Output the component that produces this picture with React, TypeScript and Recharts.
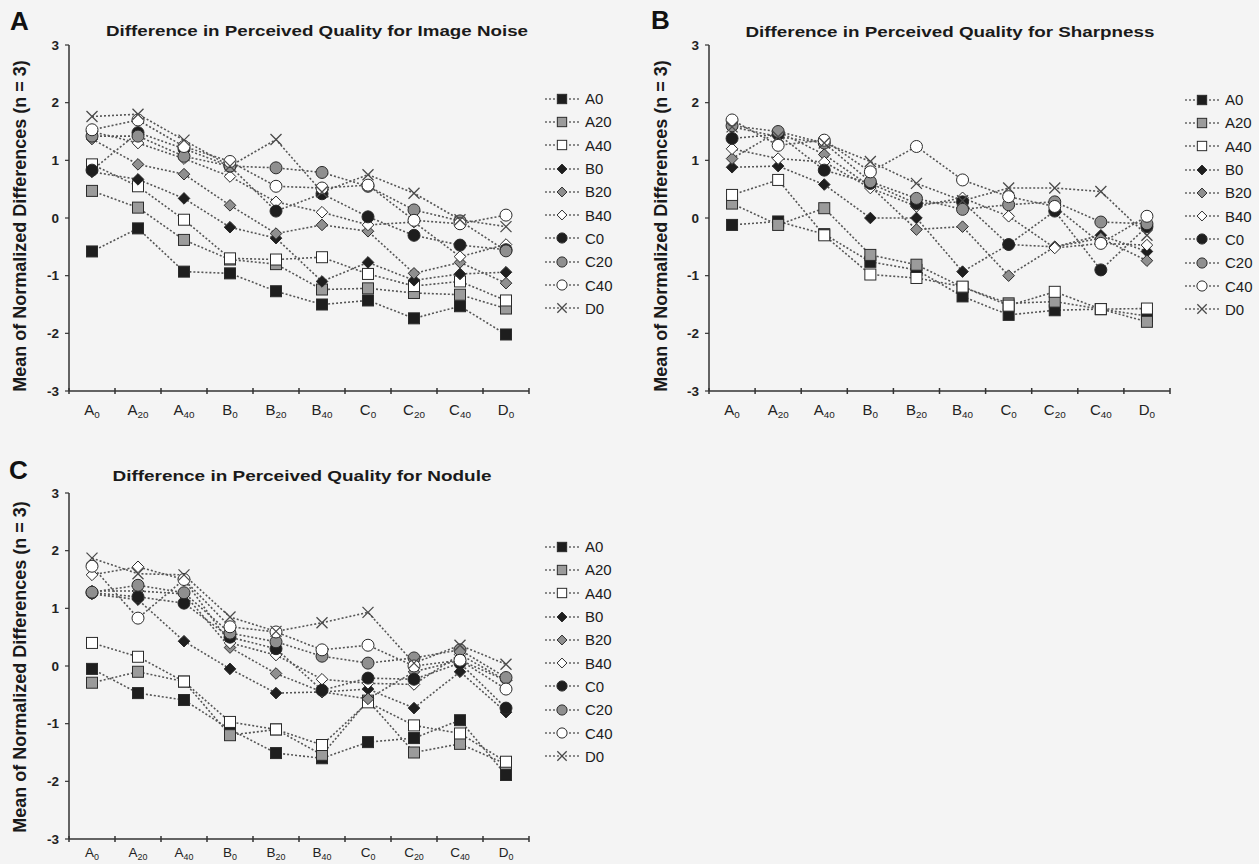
import React from 'react';
import { LineChart, Line, XAxis, YAxis, Legend } from 'recharts';

const FONT = '"Liberation Sans", Arial, Helvetica, sans-serif';

const categories = ['A0', 'A20', 'A40', 'B0', 'B20', 'B40', 'C0', 'C20', 'C40', 'D0'];
const seriesNames = ['A0', 'A20', 'A40', 'B0', 'B20', 'B40', 'C0', 'C20', 'C40', 'D0'];
const yTicks = [-3, -2, -1, 0, 1, 2, 3];

// one row per series (A0 ... D0), one value per category
const noiseValues: number[][] = [
  [-0.58, -0.18, -0.93, -0.96, -1.27, -1.5, -1.43, -1.74, -1.53, -2.02],
  [0.47, 0.18, -0.38, -0.72, -0.8, -1.24, -1.22, -1.3, -1.33, -1.57],
  [0.93, 0.55, -0.03, -0.7, -0.72, -0.68, -0.97, -1.18, -1.1, -1.43],
  [0.8, 0.67, 0.34, -0.16, -0.35, -1.1, -0.77, -1.08, -0.97, -0.94],
  [1.37, 0.93, 0.76, 0.22, -0.27, -0.12, -0.23, -0.96, -0.77, -1.13],
  [1.5, 1.3, 1.03, 0.72, 0.28, 0.1, -0.12, -0.07, -0.67, -0.46],
  [0.83, 1.48, 1.2, 0.9, 0.12, 0.42, 0.02, -0.3, -0.47, -0.55],
  [1.42, 1.42, 1.07, 0.9, 0.87, 0.79, 0.55, 0.14, -0.05, -0.57],
  [1.53, 1.7, 1.24, 0.98, 0.55, 0.52, 0.57, -0.04, -0.1, 0.05],
  [1.76, 1.8, 1.35, 0.9, 1.36, 0.45, 0.75, 0.43, -0.03, -0.15],
];

const sharpnessValues: number[][] = [
  [-0.12, -0.06, -0.28, -0.76, -0.9, -1.36, -1.68, -1.6, -1.58, -1.7],
  [0.25, -0.12, 0.17, -0.64, -0.81, -1.2, -1.48, -1.45, -1.58, -1.8],
  [0.4, 0.66, -0.3, -0.98, -1.04, -1.19, -1.52, -1.28, -1.58, -1.57],
  [0.88, 0.9, 0.58, 0.0, 0.0, -0.93, -0.46, -0.5, -0.3, -0.58],
  [1.03, 1.5, 1.1, 0.55, -0.2, -0.15, -1.0, -0.5, -0.35, -0.74],
  [1.2, 1.03, 0.97, 0.52, 0.2, 0.35, 0.03, -0.52, -0.44, -0.47],
  [1.38, 1.45, 0.83, 0.6, 0.25, 0.28, -0.46, 0.12, -0.9, -0.15],
  [1.6, 1.5, 1.3, 0.63, 0.34, 0.15, 0.23, 0.28, -0.07, -0.1],
  [1.7, 1.26, 1.35, 0.8, 1.24, 0.66, 0.37, 0.2, -0.44, 0.03],
  [1.58, 1.41, 1.3, 0.98, 0.6, 0.3, 0.52, 0.52, 0.46, -0.3],
];

const noduleValues: number[][] = [
  [-0.05, -0.47, -0.59, -1.1, -1.51, -1.6, -1.32, -1.25, -0.94, -1.89],
  [-0.29, -0.1, -0.27, -1.2, -1.1, -1.54, -0.6, -1.5, -1.35, -1.7],
  [0.4, 0.16, -0.27, -0.97, -1.1, -1.37, -0.63, -1.03, -1.17, -1.66],
  [1.25, 1.15, 0.43, -0.05, -0.47, -0.45, -0.4, -0.73, -0.1, -0.8],
  [1.3, 1.3, 1.25, 0.32, -0.13, -0.45, -0.57, -0.1, 0.1, -0.25],
  [1.58, 1.72, 1.5, 0.4, 0.19, -0.23, -0.3, -0.32, 0.2, -0.25],
  [1.27, 1.2, 1.09, 0.5, 0.3, -0.42, -0.21, -0.23, 0.05, -0.73],
  [1.28, 1.4, 1.27, 0.57, 0.42, 0.17, 0.05, 0.14, 0.28, -0.2],
  [1.73, 0.83, 1.5, 0.68, 0.59, 0.28, 0.36, 0.0, 0.1, -0.4],
  [1.87, 1.6, 1.58, 0.85, 0.6, 0.75, 0.93, 0.05, 0.36, 0.03],
];

type Look = { shape: 'square' | 'diamond' | 'circle' | 'cross'; fill: string };

const seriesLook: Look[] = [
  { shape: 'square', fill: '#1e1e1e' },
  { shape: 'square', fill: '#9b9b9b' },
  { shape: 'square', fill: '#ffffff' },
  { shape: 'diamond', fill: '#1e1e1e' },
  { shape: 'diamond', fill: '#8f8f8f' },
  { shape: 'diamond', fill: '#ffffff' },
  { shape: 'circle', fill: '#1e1e1e' },
  { shape: 'circle', fill: '#8f8f8f' },
  { shape: 'circle', fill: '#ffffff' },
  { shape: 'cross', fill: 'none' },
];

function buildRows(values: number[][]) {
  return categories.map((name, i) => {
    const row: Record<string, string | number> = { name };
    seriesNames.forEach((s, j) => {
      row[s] = values[j][i];
    });
    return row;
  });
}

const Marker = ({ cx, cy, look, s = 1 }: { cx?: number; cy?: number; look: Look; s?: number }) => {
  if (cx == null || cy == null) return null;
  const stroke = '#2b2b2b';
  if (look.shape === 'square') {
    const h = 5.5 * s;
    return <rect x={cx - h} y={cy - h} width={2 * h} height={2 * h} fill={look.fill} stroke={stroke} strokeWidth={1} />;
  }
  if (look.shape === 'diamond') {
    const h = 5.8 * s;
    return (
      <polygon
        points={`${cx},${cy - h} ${cx + h},${cy} ${cx},${cy + h} ${cx - h},${cy}`}
        fill={look.fill}
        stroke={stroke}
        strokeWidth={1}
      />
    );
  }
  if (look.shape === 'circle') {
    return <circle cx={cx} cy={cy} r={6 * s} fill={look.fill} stroke={stroke} strokeWidth={1} />;
  }
  const h = 5.5 * s;
  return (
    <path
      d={`M${cx - h},${cy - h}L${cx + h},${cy + h}M${cx + h},${cy - h}L${cx - h},${cy + h}`}
      stroke="#4a4a4a"
      strokeWidth={1.3}
      fill="none"
    />
  );
};

const CategoryTick = (props: any) => {
  const { x, y, payload, labelDy, fontSize } = props;
  const half = payload && typeof payload.offset === 'number' && payload.offset > 0 ? payload.offset : 23;
  const label = String(payload.value);
  const isLast = label === categories[categories.length - 1];
  return (
    <g>
      <line x1={x - half} x2={x - half} y1={y - 3} y2={y + 3} stroke="#333" strokeWidth={1.5} />
      {isLast && <line x1={x + half} x2={x + half} y1={y - 3} y2={y + 3} stroke="#333" strokeWidth={1.5} />}
      <text x={x} y={y + labelDy} textAnchor="middle" fontSize={fontSize} fill="#222" fontFamily={FONT}>
        {label.charAt(0)}
        <tspan fontSize={fontSize * 0.66} dy={3}>
          {label.slice(1)}
        </tspan>
      </text>
    </g>
  );
};

const LegendList = () => (
  <div style={{ fontFamily: FONT, fontSize: 15, color: '#1b1b1b', lineHeight: 1 }}>
    {seriesNames.map((n, i) => (
      <div key={n} style={{ display: 'flex', alignItems: 'center', height: 23.3 }}>
        <svg width={34} height={14} style={{ display: 'block' }}>
          <line x1={0} y1={7} x2={34} y2={7} stroke="#666" strokeWidth={1.5} strokeDasharray="2 2" />
          <Marker cx={17} cy={7} look={seriesLook[i]} s={0.85} />
        </svg>
        <span style={{ marginLeft: 6 }}>{n}</span>
      </div>
    ))}
  </div>
);

interface PanelCfg {
  left: number;
  top: number;
  width: number;
  height: number;
  plotLeft: number;
  plotRight: number;
  bottom: number;
  xAxisHeight: number;
  legendLeft: number;
  legendTop: number;
  labelDy: number;
  tickFont: number;
  letter: string;
  letterX: number;
  letterY: number;
  title: string;
  titleX: number;
  titleY: number;
  titleLen: number;
  yLabelX: number;
  yLabelY: number;
}

const Panel = ({ cfg, values }: { cfg: PanelCfg; values: number[][] }) => {
  const rows = buildRows(values);
  return (
    <div style={{ position: 'absolute', left: cfg.left, top: cfg.top, width: cfg.width, height: cfg.height }}>
      <LineChart
        width={cfg.width}
        height={cfg.height}
        data={rows}
        margin={{ top: 45, right: cfg.width - cfg.plotRight, bottom: cfg.bottom, left: cfg.plotLeft - 30 }}
      >
        <XAxis
          dataKey="name"
          scale="band"
          height={cfg.xAxisHeight}
          interval={0}
          axisLine={{ stroke: '#333', strokeWidth: 1.5 }}
          tickLine={false}
          tickSize={0}
          tickMargin={0}
          tick={<CategoryTick labelDy={cfg.labelDy} fontSize={cfg.tickFont} />}
        />
        <YAxis
          type="number"
          domain={[-3, 3]}
          ticks={yTicks}
          width={30}
          allowDataOverflow
          axisLine={{ stroke: '#333', strokeWidth: 1.5 }}
          tickLine={{ stroke: '#333', strokeWidth: 1.2 }}
          tickSize={4}
          tickMargin={6}
          tick={{ fontSize: 13.5, fill: '#222', fontFamily: FONT, fontWeight: 'bold' }}
        />
        <Legend
          layout="vertical"
          align="center"
          verticalAlign="middle"
          content={() => <LegendList />}
          wrapperStyle={{ left: cfg.legendLeft, top: cfg.legendTop, width: 80 }}
        />
        {seriesNames.map((s, i) => (
          <Line
            key={s}
            type="linear"
            dataKey={s}
            stroke="#555"
            strokeWidth={1.6}
            strokeDasharray="2 2"
            activeDot={false}
            isAnimationActive={false}
            dot={(p: any) => <Marker key={`${s}-${p.index}`} cx={p.cx} cy={p.cy} look={seriesLook[i]} />}
          />
        ))}
      </LineChart>
      <svg
        width={cfg.width}
        height={cfg.height}
        style={{ position: 'absolute', left: 0, top: 0, pointerEvents: 'none' }}
        fontFamily={FONT}
      >
        <text x={cfg.letterX} y={cfg.letterY} fontSize={26} fontWeight="bold" fill="#111">
          {cfg.letter}
        </text>
        <text
          x={cfg.titleX}
          y={cfg.titleY}
          textAnchor="middle"
          fontSize={15.5}
          fontWeight="bold"
          fill="#1a1a1a"
          textLength={cfg.titleLen}
          lengthAdjust="spacingAndGlyphs"
        >
          {cfg.title}
        </text>
        <text
          transform={`translate(${cfg.yLabelX},${cfg.yLabelY}) rotate(-90)`}
          textAnchor="middle"
          dominantBaseline="central"
          fontSize={18}
          fontWeight="bold"
          fill="#1a1a1a"
        >
          Mean of Normalized Differences (n = 3)
        </text>
      </svg>
    </div>
  );
};

const panelA: PanelCfg = {
  left: 0, top: 0, width: 630, height: 430, plotLeft: 69, plotRight: 529, bottom: 9, xAxisHeight: 30,
  legendLeft: 545, legendTop: 87, labelDy: 24, tickFont: 15,
  letter: 'A', letterX: 10, letterY: 30,
  title: 'Difference in Perceived Quality for Image Noise', titleX: 317, titleY: 36, titleLen: 422,
  yLabelX: 20, yLabelY: 226,
};

const panelB: PanelCfg = {
  left: 630, top: 0, width: 629, height: 430, plotLeft: 79, plotRight: 540, bottom: 9, xAxisHeight: 30,
  legendLeft: 555, legendTop: 88, labelDy: 24, tickFont: 15,
  letter: 'B', letterX: 21, letterY: 29,
  title: 'Difference in Perceived Quality for Sharpness', titleX: 320, titleY: 37, titleLen: 409,
  yLabelX: 31, yLabelY: 226,
};

const panelC: PanelCfg = {
  left: 0, top: 448, width: 630, height: 416, plotLeft: 69, plotRight: 529, bottom: 0, xAxisHeight: 25,
  legendLeft: 545, legendTop: 87, labelDy: 18, tickFont: 13.5,
  letter: 'C', letterX: 9, letterY: 31,
  title: 'Difference in Perceived Quality for Nodule', titleX: 302, titleY: 33, titleLen: 379,
  yLabelX: 20, yLabelY: 219,
};

export default function App() {
  return (
    <div
      style={{
        position: 'absolute',
        left: 0,
        top: 0,
        width: 1259,
        height: 864,
        overflow: 'hidden',
        background: '#f4f4f4',
      }}
    >
      <Panel cfg={panelA} values={noiseValues} />
      <Panel cfg={panelB} values={sharpnessValues} />
      <Panel cfg={panelC} values={noduleValues} />
    </div>
  );
}
